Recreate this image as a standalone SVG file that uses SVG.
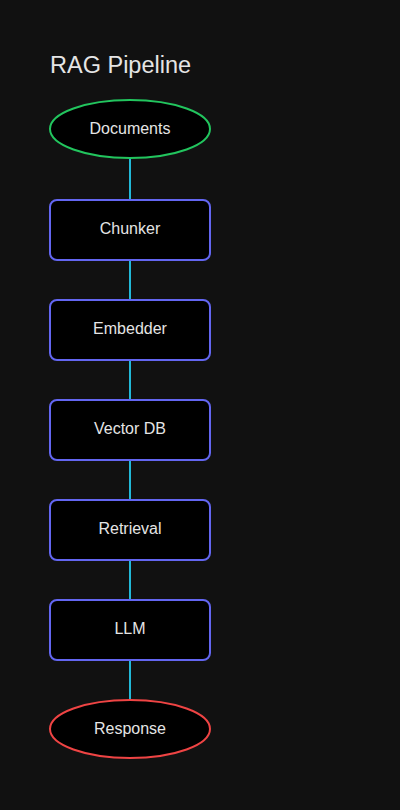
<svg xmlns="http://www.w3.org/2000/svg" width="400" height="810" viewBox="0 0 400 810">
<style>
.bg{fill:#111111}
.box{fill:#000000;stroke:#6366f1;stroke-width:2}
.start{fill:#000000;stroke:#22c55e;stroke-width:2}
.end{fill:#000000;stroke:#ef4444;stroke-width:2}
.lbl{font-family:"Liberation Sans",Arial,sans-serif;font-size:16px;fill:#e5e5e5;text-anchor:middle;dominant-baseline:central}
.title{font-family:"Liberation Sans",Arial,sans-serif;font-size:23.5px;fill:#e5e5e5}
.edge{stroke:#22b8d8;stroke-width:2;fill:none}
</style>
<rect class="bg" x="0" y="0" width="400" height="810"/>
<text class="title" x="50" y="73">RAG Pipeline</text>
<g id="connectors">
<line class="edge" x1="130" y1="159" x2="130" y2="200"/>
<line class="edge" x1="130" y1="260" x2="130" y2="300"/>
<line class="edge" x1="130" y1="360" x2="130" y2="400"/>
<line class="edge" x1="130" y1="460" x2="130" y2="500"/>
<line class="edge" x1="130" y1="560" x2="130" y2="600"/>
<line class="edge" x1="130" y1="660" x2="130" y2="699"/>
</g>
<g id="documents"><ellipse class="start" cx="130" cy="129" rx="80" ry="29"/><text class="lbl" x="130" y="128">Documents</text></g>
<g id="chunker"><rect class="box" x="50" y="200" width="160" height="60" rx="7"/><text class="lbl" x="130" y="228">Chunker</text></g>
<g id="embedder"><rect class="box" x="50" y="300" width="160" height="60" rx="7"/><text class="lbl" x="130" y="328">Embedder</text></g>
<g id="vectordb"><rect class="box" x="50" y="400" width="160" height="60" rx="7"/><text class="lbl" x="130" y="428">Vector DB</text></g>
<g id="retrieval"><rect class="box" x="50" y="500" width="160" height="60" rx="7"/><text class="lbl" x="130" y="528">Retrieval</text></g>
<g id="llm"><rect class="box" x="50" y="600" width="160" height="60" rx="7"/><text class="lbl" x="130" y="628">LLM</text></g>
<g id="response"><ellipse class="end" cx="130" cy="729" rx="80" ry="29"/><text class="lbl" x="130" y="728">Response</text></g>
</svg>
